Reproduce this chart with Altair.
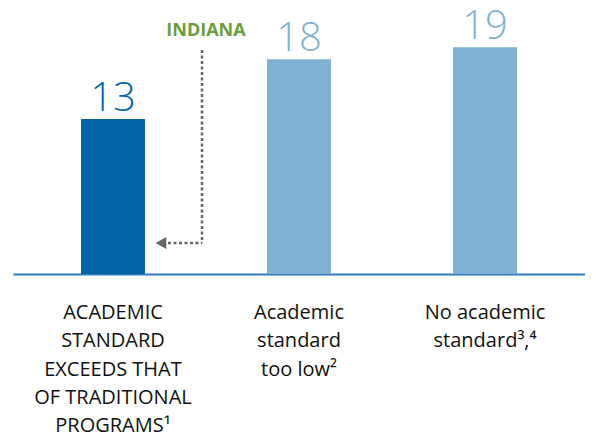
import altair as alt
import pandas as pd

categories = ["exceeds", "too_low", "none"]
values = [13, 18, 19]
labels = [
    "ACADEMIC\nSTANDARD\nEXCEEDS THAT\nOF TRADITIONAL\nPROGRAMS¹",
    "Academic\nstandard\ntoo low²",
    "No academic\nstandard³,⁴",
]
bar_colors = ["#0565a6", "#80b3d3", "#80b3d3"]
annotation = "INDIANA"

df = pd.DataFrame({"cat": categories, "value": values, "label": labels})

FONT = "Open Sans"
W, H = 572, 266

x = alt.X("cat:N", sort=categories,
          scale=alt.Scale(paddingInner=0.656, paddingOuter=0.3655),
          axis=alt.Axis(title=None, labels=False, ticks=False, domain=True,
                        domainColor="#2f7dbb", domainWidth=2, grid=False))
y = alt.Y("value:Q", scale=alt.Scale(domain=[0, 22.3], nice=False, zero=True), axis=None)
color = alt.Color("cat:N", scale=alt.Scale(domain=categories, range=bar_colors), legend=None)

base = alt.Chart(df)

bars = base.mark_bar().encode(x=x, y=y, color=color)

nums = base.mark_text(font=FONT, fontSize=40, fontWeight=300, baseline="alphabetic",
                      align="center", dy=-8).encode(
    x=alt.X("cat:N", sort=categories), y="value:Q", color=color,
    text=alt.Text("value:Q"))

cat_labels = base.mark_text(font=FONT, fontSize=20, baseline="alphabetic", align="center",
                            lineBreak="\n", lineHeight=28.3, dy=45, color="#111111").encode(
    x=alt.X("cat:N", sort=categories), y=alt.datum(0), text="label:N")

ann_df = pd.DataFrame({"cat": [categories[0]], "text": [annotation]})
ann = alt.Chart(ann_df).mark_text(font=FONT, fontSize=18, fontWeight="bold", color="#6c9d3c",
                                  baseline="middle", align="center", dx=93, dy=23).encode(
    x=alt.X("cat:N", sort=categories), y=alt.value(0), text="text:N")

dot_style = dict(color="#666666", strokeDash=[3, 2.5], strokeWidth=2.5)
vrule = alt.Chart(ann_df).mark_rule(**dot_style).encode(
    x=alt.value(189), y=alt.value(42), y2=alt.value(235))
hrule = alt.Chart(ann_df).mark_rule(**dot_style).encode(
    x=alt.value(155), x2=alt.value(189), y=alt.value(235))
head = alt.Chart(ann_df).mark_point(shape="triangle-left", filled=True, color="#666666",
                                    opacity=1, size=150).encode(
    x=alt.value(148), y=alt.value(235))

chart = alt.layer(bars, nums, cat_labels, ann, vrule, hrule, head).properties(
    width=W, height=H,
    autosize=alt.AutoSizeParams(type="none"),
    padding={"left": 5, "top": 0, "right": 0, "bottom": 158},
).configure(background="white").configure_view(stroke=None, strokeWidth=0)

chart.save("out.html", embed_options={"renderer": "svg", "actions": False})
